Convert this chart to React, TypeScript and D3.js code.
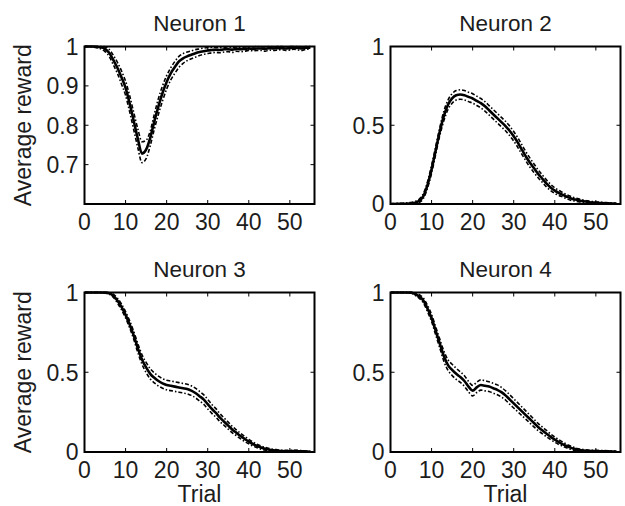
import React from "react";
import * as d3 from "d3";

const trials = d3.range(56);

const titles = ["Neuron 1", "Neuron 2", "Neuron 3", "Neuron 4"];
const xTicks = [0, 10, 20, 30, 40, 50];
const yTicks1 = [0.7, 0.8, 0.9, 1];
const yTicksOther = [0, 0.5, 1];

const m1 = [1,1,1,0.999,0.998,0.994,0.984,0.966,0.946,0.922,0.895,0.855,0.81,0.765,0.728,0.738,0.768,0.81,0.848,0.882,0.91,0.932,0.948,0.962,0.97,0.975,0.979,0.983,0.986,0.988,0.99,0.991,0.992,0.991,0.993,0.993,0.992,0.994,0.993,0.994,0.995,0.994,0.995,0.995,0.994,0.996,0.995,0.996,0.996,0.995,0.996,0.997,0.996,0.995,0.997,0.997];
const u1 = [1,1,1,1,1,0.999,0.993,0.978,0.96,0.938,0.912,0.875,0.832,0.79,0.758,0.762,0.785,0.828,0.868,0.9,0.926,0.946,0.962,0.975,0.982,0.986,0.989,0.992,0.994,0.996,0.997,0.998,0.998,0.997,0.998,0.999,0.998,0.999,0.998,0.999,0.999,0.999,1,0.999,0.999,1,0.999,1,1,0.999,1,1,1,0.999,1,1];
const l1 = [1,1,0.999,0.997,0.994,0.987,0.975,0.954,0.932,0.905,0.876,0.834,0.788,0.742,0.705,0.715,0.748,0.79,0.828,0.862,0.892,0.915,0.932,0.947,0.957,0.964,0.969,0.973,0.977,0.98,0.982,0.984,0.985,0.984,0.986,0.987,0.985,0.988,0.987,0.988,0.99,0.989,0.99,0.99,0.988,0.991,0.99,0.991,0.992,0.99,0.991,0.993,0.991,0.99,0.993,0.993];

const m2 = [0,0,0.001,0.001,0.002,0.004,0.008,0.02,0.05,0.12,0.22,0.34,0.46,0.56,0.63,0.67,0.69,0.695,0.69,0.68,0.67,0.655,0.64,0.62,0.595,0.57,0.545,0.52,0.495,0.465,0.43,0.39,0.345,0.3,0.26,0.225,0.19,0.16,0.13,0.105,0.085,0.07,0.058,0.045,0.035,0.028,0.022,0.017,0.013,0.01,0.008,0.006,0.005,0.004,0.003,0.002];
const u2 = [0.002,0.003,0.004,0.005,0.007,0.01,0.016,0.032,0.066,0.14,0.245,0.365,0.485,0.59,0.66,0.7,0.72,0.725,0.72,0.71,0.7,0.685,0.67,0.65,0.625,0.6,0.575,0.55,0.525,0.495,0.46,0.42,0.375,0.33,0.29,0.252,0.215,0.183,0.152,0.125,0.103,0.086,0.072,0.058,0.047,0.038,0.031,0.025,0.02,0.016,0.013,0.011,0.009,0.008,0.006,0.005];
const l2 = [0,0,0,0,0,0,0.002,0.01,0.035,0.1,0.195,0.315,0.435,0.53,0.6,0.64,0.66,0.665,0.66,0.65,0.64,0.625,0.61,0.59,0.565,0.54,0.515,0.49,0.465,0.435,0.4,0.36,0.315,0.272,0.232,0.198,0.165,0.137,0.108,0.085,0.067,0.054,0.044,0.032,0.023,0.018,0.013,0.009,0.006,0.004,0.003,0.002,0.001,0,0,0];

const m3 = [1,1,1,1,1,0.999,0.995,0.98,0.95,0.91,0.86,0.8,0.73,0.65,0.58,0.53,0.49,0.465,0.445,0.43,0.42,0.415,0.41,0.405,0.4,0.395,0.385,0.37,0.35,0.33,0.3,0.27,0.245,0.215,0.19,0.165,0.14,0.12,0.1,0.082,0.065,0.05,0.038,0.028,0.02,0.014,0.01,0.008,0.006,0.005,0.005,0.006,0.005,0.004,0.003,0.002];
const u3 = [1,1,1,1,1,1,0.999,0.99,0.965,0.928,0.88,0.822,0.755,0.678,0.61,0.562,0.522,0.496,0.476,0.46,0.45,0.445,0.44,0.435,0.43,0.425,0.415,0.4,0.38,0.36,0.33,0.298,0.272,0.24,0.213,0.187,0.16,0.138,0.117,0.098,0.079,0.063,0.049,0.038,0.029,0.022,0.017,0.014,0.011,0.01,0.01,0.011,0.01,0.008,0.006,0.005];
const l3 = [1,1,1,1,0.999,0.997,0.99,0.97,0.935,0.892,0.84,0.778,0.705,0.622,0.55,0.498,0.458,0.434,0.414,0.4,0.39,0.385,0.38,0.375,0.37,0.365,0.355,0.34,0.32,0.3,0.27,0.242,0.218,0.19,0.167,0.143,0.12,0.102,0.083,0.066,0.051,0.037,0.027,0.018,0.011,0.006,0.003,0.002,0.001,0,0,0.001,0,0,0,0];

const m4 = [1,1,1,1,1,0.999,0.99,0.975,0.95,0.9,0.84,0.76,0.68,0.6,0.545,0.515,0.49,0.47,0.445,0.41,0.385,0.405,0.42,0.415,0.41,0.4,0.39,0.375,0.355,0.33,0.305,0.28,0.255,0.23,0.205,0.18,0.155,0.135,0.115,0.095,0.078,0.062,0.048,0.036,0.026,0.018,0.012,0.009,0.007,0.006,0.006,0.005,0.005,0.004,0.003,0.002];
const u4 = [1,1,1,1,1,1,0.997,0.986,0.965,0.92,0.862,0.785,0.708,0.632,0.578,0.55,0.525,0.503,0.478,0.443,0.418,0.437,0.452,0.447,0.441,0.431,0.421,0.405,0.384,0.36,0.334,0.308,0.282,0.256,0.23,0.204,0.178,0.156,0.135,0.113,0.094,0.077,0.061,0.047,0.036,0.026,0.019,0.015,0.012,0.011,0.01,0.009,0.009,0.008,0.006,0.005];
const l4 = [1,1,1,1,0.999,0.997,0.982,0.963,0.935,0.88,0.818,0.735,0.652,0.568,0.512,0.48,0.455,0.437,0.412,0.377,0.352,0.373,0.388,0.383,0.379,0.369,0.359,0.345,0.326,0.3,0.276,0.252,0.228,0.204,0.18,0.156,0.132,0.114,0.095,0.077,0.062,0.047,0.035,0.025,0.016,0.01,0.005,0.003,0.002,0.001,0.002,0.001,0.001,0,0,0];

const FONT = "'Liberation Sans', Arial, Helvetica, sans-serif";
const TXT = "#1c1c1c";
const FS = 23;

type PanelSpec = {
  title: string;
  left: number; right: number; top: number; bottom: number;
  yDomain: [number, number];
  yTicks: number[];
  mean: number[]; upper: number[]; lower: number[];
  yLabel: boolean; xLabel: boolean;
};

const panels: PanelSpec[] = [
  { title: titles[0], left: 84.5, right: 314.5, top: 46.5, bottom: 204, yDomain: [0.6, 1], yTicks: yTicks1, mean: m1, upper: u1, lower: l1, yLabel: true, xLabel: false },
  { title: titles[1], left: 390.5, right: 620.5, top: 46.5, bottom: 204, yDomain: [0, 1], yTicks: yTicksOther, mean: m2, upper: u2, lower: l2, yLabel: false, xLabel: false },
  { title: titles[2], left: 84.5, right: 314.5, top: 292.5, bottom: 452, yDomain: [0, 1], yTicks: yTicksOther, mean: m3, upper: u3, lower: l3, yLabel: true, xLabel: true },
  { title: titles[3], left: 390.5, right: 620.5, top: 292.5, bottom: 452, yDomain: [0, 1], yTicks: yTicksOther, mean: m4, upper: u4, lower: l4, yLabel: false, xLabel: true },
];

function Panel({ p, idx }: { p: PanelSpec; idx: number }) {
  const x = d3.scaleLinear().domain([0, 56]).range([p.left, p.right]);
  const y = d3.scaleLinear().domain(p.yDomain).range([p.bottom, p.top]);
  const line = (vals: number[]) =>
    d3.line<number>().x((t) => x(t)).y((t) => y(vals[t])).curve(d3.curveMonotoneX)(trials) || "";
  const tl = 4;
  const cx = (p.left + p.right) / 2;
  const cy = (p.top + p.bottom) / 2;
  const clipId = `clip${idx}`;
  return (
    <g>
      <defs>
        <clipPath id={clipId}>
          <rect x={p.left} y={p.top - 2} width={p.right - p.left} height={p.bottom - p.top + 2} />
        </clipPath>
      </defs>
      <g clipPath={`url(#${clipId})`} fill="none" stroke="#000">
        <path d={line(p.upper)} strokeWidth={1.6} strokeDasharray="4,2,1.5,2" />
        <path d={line(p.lower)} strokeWidth={1.6} strokeDasharray="4,2,1.5,2" />
        <path d={line(p.mean)} strokeWidth={2.6} />
      </g>
      {xTicks.map((t) => (
        <g key={"xt" + t}>
          <line x1={x(t)} x2={x(t)} y1={p.bottom} y2={p.bottom - tl} stroke="#000" strokeWidth={1} />
          <line x1={x(t)} x2={x(t)} y1={p.top} y2={p.top + tl} stroke="#000" strokeWidth={1} />
          <text x={x(t)} y={p.bottom + 25.5} textAnchor="middle" fontSize={FS} fontFamily={FONT} fill={TXT}>{t}</text>
        </g>
      ))}
      {p.yTicks.map((t) => (
        <g key={"yt" + t}>
          <line x1={p.left} x2={p.left + tl} y1={y(t)} y2={y(t)} stroke="#000" strokeWidth={1} />
          <line x1={p.right} x2={p.right - tl} y1={y(t)} y2={y(t)} stroke="#000" strokeWidth={1} />
          <text x={p.left - 6} y={y(t)} dy="0.36em" textAnchor="end" fontSize={FS} fontFamily={FONT} fill={TXT}>{String(t)}</text>
        </g>
      ))}
      <rect x={p.left} y={p.top} width={p.right - p.left} height={p.bottom - p.top} fill="none" stroke="#000" strokeWidth={2} />
      <text x={cx} y={p.top - 16} textAnchor="middle" fontSize={FS - 0.5} fontFamily={FONT} fill={TXT}>{p.title}</text>
      {p.yLabel && (
        <text transform={`translate(31,${cy}) rotate(-90)`} textAnchor="middle" fontSize={FS} fontFamily={FONT} fill={TXT}>Average reward</text>
      )}
      {p.xLabel && (
        <text x={cx} y={p.bottom + 49.5} textAnchor="middle" fontSize={FS} fontFamily={FONT} fill={TXT}>Trial</text>
      )}
    </g>
  );
}

export default function App() {
  return (
    <svg width={625} height={506} style={{ position: "absolute", left: 0, top: 0, background: "#fff" }}>
      <rect width={625} height={506} fill="#fff" />
      {panels.map((p, i) => (
        <Panel key={i} p={p} idx={i} />
      ))}
    </svg>
  );
}
